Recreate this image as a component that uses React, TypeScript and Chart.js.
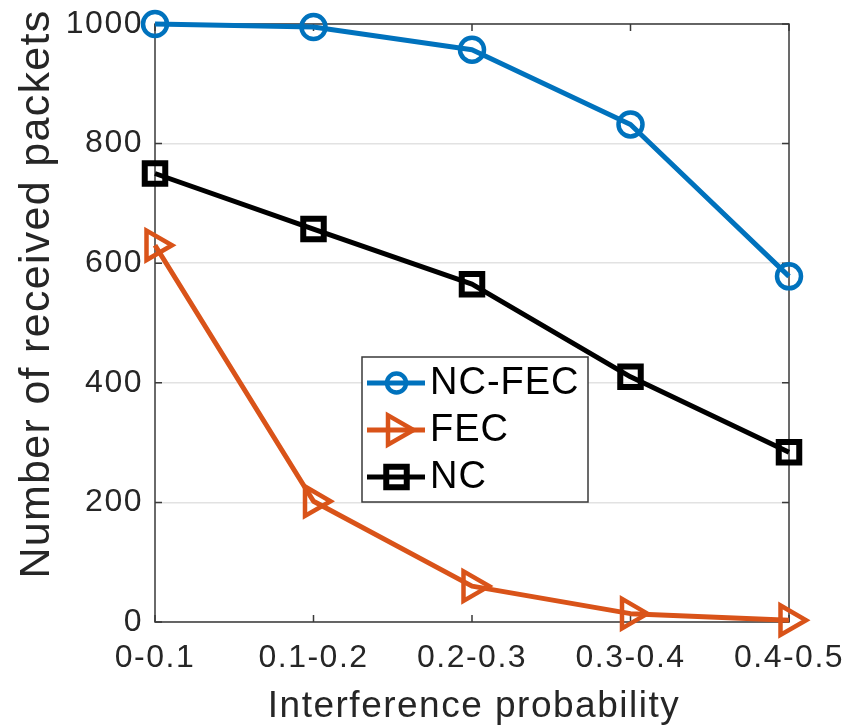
import React, { useEffect, useRef } from "react";
import { Chart, registerables } from "chart.js";

Chart.register(...registerables);

// ---- data ----
const categories = ["0-0.1", "0.1-0.2", "0.2-0.3", "0.3-0.4", "0.4-0.5"];
const ncFecValues = [1000, 995, 957, 832, 578];
const fecValues = [630, 202, 60, 14, 3];
const ncValues = [750, 657, 565, 410, 284];
const seriesLabels = ["NC-FEC", "FEC", "NC"];
const yMin = 0;
const yMax = 1000;
const yStep = 200;
const xTitle = "Interference probability";
const yTitle = "Number of received packets";

const FONT = "'Liberation Sans', Arial, Helvetica, sans-serif";
const TEXT = "#262626";
const AXIS = "#3a3a3a";
const BLUE = "#0072BD";
const ORANGE = "#D95319";
const BLACK = "#000000";

function drawMarker(ctx: CanvasRenderingContext2D, style: string, x: number, y: number, r: number, rot: number) {
  ctx.beginPath();
  if (style === "circle") {
    ctx.arc(x, y, r, 0, Math.PI * 2);
  } else if (style === "rect") {
    const s = r * Math.SQRT1_2;
    ctx.rect(x - s, y - s, 2 * s, 2 * s);
  } else if (style === "triangle") {
    let rad = (rot * Math.PI) / 180;
    ctx.moveTo(x + Math.sin(rad) * r, y - Math.cos(rad) * r);
    rad += (2 * Math.PI) / 3;
    ctx.lineTo(x + Math.sin(rad) * r, y - Math.cos(rad) * r);
    rad += (2 * Math.PI) / 3;
    ctx.lineTo(x + Math.sin(rad) * r, y - Math.cos(rad) * r);
    ctx.closePath();
  }
  ctx.stroke();
}

const spacingPlugin = {
  id: "spacing",
  beforeDraw(chart: any) {
    chart.ctx.letterSpacing = "1.5px";
  },
  afterDraw(chart: any) {
    chart.ctx.letterSpacing = "0px";
  },
};

const boxPlugin = {
  id: "axesBox",
  beforeDatasetsDraw(chart: any) {
    const { ctx, chartArea: ca, scales } = chart;
    ctx.save();
    ctx.strokeStyle = AXIS;
    ctx.lineWidth = 1.5;
    ctx.strokeRect(ca.left, ca.top, ca.right - ca.left, ca.bottom - ca.top);
    const T = 7;
    ctx.beginPath();
    scales.x.ticks.forEach((_t: any, i: number) => {
      const px = scales.x.getPixelForTick(i);
      ctx.moveTo(px, ca.bottom);
      ctx.lineTo(px, ca.bottom - T);
      ctx.moveTo(px, ca.top);
      ctx.lineTo(px, ca.top + T);
    });
    scales.y.ticks.forEach((_t: any, i: number) => {
      const py = scales.y.getPixelForTick(i);
      ctx.moveTo(ca.left, py);
      ctx.lineTo(ca.left + T, py);
      ctx.moveTo(ca.right, py);
      ctx.lineTo(ca.right - T, py);
    });
    ctx.stroke();

    // axis titles
    ctx.fillStyle = TEXT;
    ctx.letterSpacing = "1.5px";
    ctx.font = `37px ${FONT}`;
    ctx.textAlign = "center";
    ctx.textBaseline = "alphabetic";
    ctx.fillText(xTitle, (ca.left + ca.right) / 2 + 2, ca.bottom + 95);
    ctx.save();
    ctx.letterSpacing = "1.3px";
    ctx.font = `43px ${FONT}`;
    ctx.translate(49, ca.top + 270);
    ctx.rotate(-Math.PI / 2);
    ctx.fillText(yTitle, 0, 0);
    ctx.restore();
    ctx.restore();
  },
};

const legendPlugin = {
  id: "boxLegend",
  afterDatasetsDraw(chart: any) {
    const { ctx, chartArea: ca } = chart;
    const x0 = ca.left + 207;
    const y0 = ca.top + 333;
    const w = 226;
    const h = 145;
    ctx.save();
    ctx.fillStyle = "#ffffff";
    ctx.fillRect(x0, y0, w, h);
    ctx.strokeStyle = AXIS;
    ctx.lineWidth = 1.5;
    ctx.strokeRect(x0, y0, w, h);
    const legendRadius: Record<string, number> = { circle: 9.5, triangle: 17, rect: 14.5 };
    chart.data.datasets.forEach((ds: any, i: number) => {
      const cy = y0 + 26 + i * 47;
      ctx.strokeStyle = ds.borderColor;
      ctx.lineWidth = ds.borderWidth;
      ctx.beginPath();
      ctx.moveTo(x0 + 5, cy);
      ctx.lineTo(x0 + 63, cy);
      ctx.stroke();
      ctx.lineWidth = ds.pointBorderWidth;
      ctx.lineJoin = "miter";
      drawMarker(ctx, ds.pointStyle, x0 + 34.5, cy, legendRadius[ds.pointStyle], ds.pointRotation || 0);
      ctx.fillStyle = "#000000";
      ctx.letterSpacing = "1px";
      ctx.font = `38px ${FONT}`;
      ctx.textAlign = "left";
      ctx.textBaseline = "middle";
      ctx.fillText(ds.label, x0 + 68, cy + 1);
    });
    ctx.restore();
  },
};

export default function App() {
  const canvasRef = useRef<HTMLCanvasElement | null>(null);

  useEffect(() => {
    if (!canvasRef.current) return;
    const chart = new Chart(canvasRef.current, {
      type: "line",
      data: {
        labels: categories,
        datasets: [
          {
            label: seriesLabels[0],
            data: ncFecValues,
            borderColor: BLUE,
            borderWidth: 5,
            pointStyle: "circle",
            pointRadius: 12,
            pointBorderWidth: 4.5,
            pointBorderColor: BLUE,
            pointBackgroundColor: "rgba(0,0,0,0)",
            tension: 0,
            clip: false,
          } as any,
          {
            label: seriesLabels[1],
            data: fecValues,
            borderColor: ORANGE,
            borderWidth: 5,
            pointStyle: "triangle",
            pointRotation: 90,
            pointRadius: 17,
            pointBorderWidth: 4.5,
            pointBorderColor: ORANGE,
            pointBackgroundColor: "rgba(0,0,0,0)",
            tension: 0,
            clip: false,
          } as any,
          {
            label: seriesLabels[2],
            data: ncValues,
            borderColor: BLACK,
            borderWidth: 5,
            pointStyle: "rect",
            pointRadius: 14.5,
            pointBorderWidth: 6,
            pointBorderColor: BLACK,
            pointBackgroundColor: "rgba(0,0,0,0)",
            tension: 0,
            clip: false,
          } as any,
        ],
      },
      options: {
        animation: false,
        responsive: false,
        devicePixelRatio: 1,
        layout: { padding: { top: 24, right: 63, left: 0, bottom: 0 } },
        plugins: {
          legend: { display: false },
          tooltip: { enabled: false },
        },
        elements: { line: { borderJoinStyle: "round" } },
        scales: {
          x: {
            type: "category",
            offset: false,
            grid: { display: false, drawTicks: false },
            border: { display: false },
            ticks: {
              color: TEXT,
              font: { family: FONT, size: 32 },
              padding: 17,
              maxRotation: 0,
              autoSkip: false,
            },
            afterFit: (s: any) => {
              s.height = 103;
              s.paddingLeft = 0;
              s.paddingRight = 0;
            },
          },
          y: {
            min: yMin,
            max: yMax,
            grid: { color: "#e2e2e2", lineWidth: 1.5, drawTicks: false },
            border: { display: false },
            ticks: {
              stepSize: yStep,
              color: TEXT,
              font: { family: FONT, size: 32 },
              padding: 12,
              callback: (v: any) => String(v),
            },
            afterFit: (s: any) => {
              s.width = 155;
              s.paddingTop = 0;
              s.paddingBottom = 0;
            },
          },
        },
      } as any,
      plugins: [spacingPlugin, boxPlugin, legendPlugin],
    });
    return () => chart.destroy();
  }, []);

  return (
    <div style={{ position: "absolute", left: 0, top: 0, width: 852, height: 725, background: "#fff" }}>
      <canvas ref={canvasRef} width={852} height={725} style={{ width: 852, height: 725 }} />
    </div>
  );
}
